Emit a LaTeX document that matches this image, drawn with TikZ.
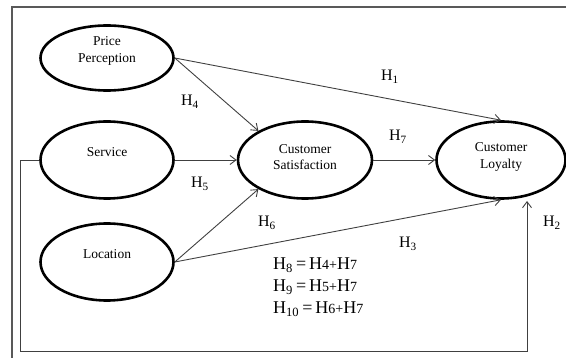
\documentclass[tikz,border=0pt]{standalone}
\usepackage{fontspec}
\setmainfont{Liberation Serif}
\usetikzlibrary{arrows.meta,shapes.geometric}
\newcommand{\smd}[1]{{\fontsize{14}{14}\selectfont #1}}
\begin{document}
\begin{tikzpicture}[x=1pt,y=-1pt,
  construct/.style={ellipse, draw=black, line width=2.6pt, minimum width=133pt, minimum height=77pt, inner sep=0pt},
  ctext/.style={align=center, font=\fontsize{13.5}{16.5}\selectfont, inner sep=0pt},
  conn/.style={draw=black!75, line width=0.9pt, -{Straight Barb[length=6pt,width=9pt,line width=0.9pt]}},
  hlab/.style={font=\fontsize{16}{18}\selectfont, inner sep=0pt},
  eqlab/.style={font=\fontsize{18}{20}\selectfont, inner sep=0pt, anchor=base west},
]
\useasboundingbox (0,0) rectangle (566,358);
% frame
\draw[draw=black!65, line width=1.8pt] (12,380) -- (12,7) -- (590,7);

% constructs
\node[construct, minimum height=65pt] (pp) at (107,58) {};
\node[construct] (sv) at (107,160) {};
\node[construct] (lo) at (107,262) {};
\node[construct, minimum width=134pt] (cs) at (305,160) {};
\node[construct, minimum width=129pt] (cl) at (501,160) {};

\node[ctext] (ppt) at ([yshift=7pt]pp.center) {Price\\Perception};
\node[ctext] (svt) at ([yshift=8pt]sv.center) {Service};
\node[ctext] (lot) at ([yshift=8pt]lo.center) {Location};
\node[ctext] (cst) at ([yshift=3pt]cs.center) {Customer\\Satisfaction};
\node[ctext] (clt) at ([yshift=3pt]cl.center) {Customer\\Loyalty};

% connectors
\draw[conn] (pp.east) -- (cl.north);
\draw[conn] (pp.east) -- (cs.148);
\draw[conn] (sv.east) -- (cs.west);
\draw[conn] (cs.east) -- (cl.west);
\draw[conn] (lo.east) -- (cs.212);
\draw[conn] (lo.east) -- (cl.south);
\coordinate (loopA) at (20,351);
\coordinate (loopB) at (527,351);
\coordinate (loopEnd) at (527,201);
\draw[conn] (sv.west) -| (loopA) -- (loopB) -- (loopEnd);

% labels
\node[hlab] (h1) at (390,77) {H\textsubscript{1}};
\node[hlab] (h4) at (190,102) {H\textsubscript{4}};
\node[hlab] (h7) at (398,137) {H\textsubscript{7}};
\node[hlab] (h5) at (200,184) {H\textsubscript{5}};
\node[hlab] (h6) at (267,223) {H\textsubscript{6}};
\node[hlab] (h3) at (408,244) {H\textsubscript{3}};
\node[hlab] (h2) at (552,223) {H\textsubscript{2}};

\node[eqlab] (eq8) at (273,270) {H\textsubscript{8}\,=\,H\smd{4}\smd{+}H\smd{7}};
\node[eqlab] (eq9) at (273,292) {H\textsubscript{9}\,=\,H\smd{5}\smd{+}H\smd{7}};
\node[eqlab] (eq10) at (273,314) {H\textsubscript{10}\,=\,H\smd{6}\smd{+}H\smd{7}};
\end{tikzpicture}
\end{document}
